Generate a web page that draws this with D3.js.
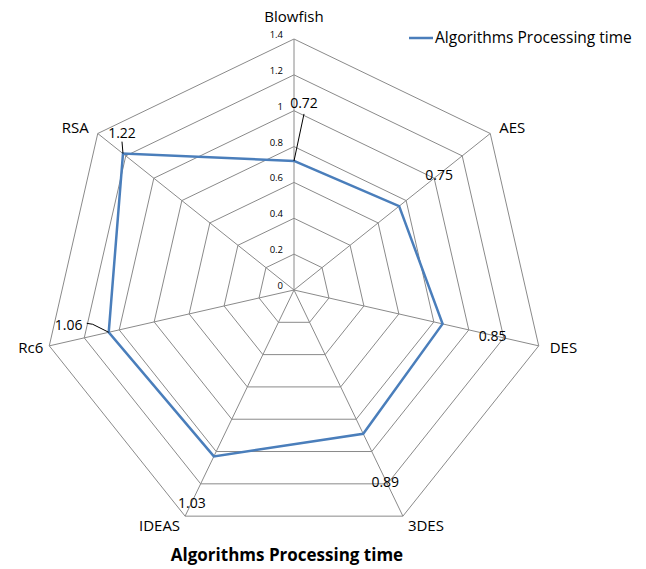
<!DOCTYPE html>
<html>
<head>
<meta charset="utf-8">
<script src="https://cdn.jsdelivr.net/npm/d3@7"></script>
<style>
  html, body { margin: 0; padding: 0; background: #fff; }
  svg { display: block; font-family: "Open Sans", "Liberation Sans", sans-serif; }
</style>
</head>
<body>
<svg id="chart" width="646" height="569"></svg>
<script>
// Chart data
const categories = ["Blowfish", "AES", "DES", "3DES", "IDEAS", "Rc6", "RSA"];
const seriesName = "Algorithms Processing time";
const values = [0.72, 0.75, 0.85, 0.89, 1.03, 1.06, 1.22];
const ticks = [0, 0.2, 0.4, 0.6, 0.8, 1, 1.2, 1.4];
const chartTitle = "Algorithms Processing time";

// Layout
const W = 646, H = 569;
const cx = 294, cy = 290, R = 251;
const gridColor = "#8a8a8a";
const lineColor = "#4a7ebb";

const svg = d3.select("#chart");

const r = d3.scaleLinear().domain([0, 1.4]).range([0, R]);
const angle = d3.scaleLinear().domain([0, categories.length]).range([0, 2 * Math.PI]);

function pt(i, v) {
  const a = angle(i);
  return [cx + r(v) * Math.sin(a), cy - r(v) * Math.cos(a)];
}

const g = svg.append("g");

// Rings
const ringLine = d3.line();
g.selectAll("path.ring")
  .data(ticks.filter(t => t > 0))
  .join("path")
  .attr("class", "ring")
  .attr("d", t => ringLine(categories.map((c, i) => pt(i, t))) + "Z")
  .attr("fill", "none")
  .attr("stroke", gridColor)
  .attr("stroke-width", 1);

// Spokes
g.selectAll("line.spoke")
  .data(categories)
  .join("line")
  .attr("class", "spoke")
  .attr("x1", cx).attr("y1", cy)
  .attr("x2", (d, i) => pt(i, 1.4)[0])
  .attr("y2", (d, i) => pt(i, 1.4)[1])
  .attr("stroke", gridColor)
  .attr("stroke-width", 1);

// Tick labels along the first axis
g.selectAll("text.tick")
  .data(ticks)
  .join("text")
  .attr("class", "tick")
  .attr("x", cx - 11)
  .attr("y", t => cy - r(t) - 1)
  .attr("text-anchor", "end")
  .attr("font-size", 9.5)
  .attr("fill", "#000")
  .text(t => d3.format("")(t));

// Category labels, placed relative to the outer vertex
const catLabelNudge = [
  { dx: 0, dy: -22, anchor: "middle" },
  { dx: 9, dy: -6, anchor: "start" },
  { dx: 11, dy: 2, anchor: "start" },
  { dx: 5, dy: 10, anchor: "start" },
  { dx: -5, dy: 10, anchor: "end" },
  { dx: -6, dy: 2, anchor: "end" },
  { dx: -9, dy: -6, anchor: "end" }
];
g.selectAll("text.cat")
  .data(categories)
  .join("text")
  .attr("class", "cat")
  .attr("x", (d, i) => pt(i, 1.4)[0] + catLabelNudge[i].dx)
  .attr("y", (d, i) => pt(i, 1.4)[1] + catLabelNudge[i].dy)
  .attr("dy", "0.35em")
  .attr("text-anchor", (d, i) => catLabelNudge[i].anchor)
  .attr("font-size", 15)
  .attr("fill", "#000")
  .text(d => d);

// Series line
g.append("path")
  .attr("d", ringLine(values.map((v, i) => pt(i, v))) + "Z")
  .attr("fill", "none")
  .attr("stroke", lineColor)
  .attr("stroke-width", 2.5)
  .attr("stroke-linejoin", "miter");

// Data labels: offset of label centre from its point, plus optional leader line
const dataLabelNudge = [
  { dx: 10, dy: -58, leader: [[10, -47]] },
  { dx: 40, dy: -31 },
  { dx: 50, dy: 12 },
  { dx: 22, dy: 48 },
  { dx: -22, dy: 47 },
  { dx: -40, dy: -7, leader: [[-22, -9], [-16, -8]] },
  { dx: -1, dy: -21, leader: [[-1, -12]] }
];
const labels = g.append("g");
values.forEach((v, i) => {
  const [x, y] = pt(i, v);
  const n = dataLabelNudge[i];
  if (n.leader) {
    const pts = n.leader.map(([a, b]) => [x + a, y + b]);
    pts.push([x, y]);
    labels.append("path")
      .attr("d", d3.line()(pts))
      .attr("fill", "none")
      .attr("stroke", "#000")
      .attr("stroke-width", 1);
  }
  labels.append("text")
    .attr("x", x + n.dx)
    .attr("y", y + n.dy)
    .attr("dy", "0.35em")
    .attr("text-anchor", "middle")
    .attr("font-size", 14)
    .attr("fill", "#000")
    .text(d3.format(".2f")(v));
});

// Legend
const legend = svg.append("g").attr("transform", "translate(409,38)");
legend.append("line")
  .attr("x1", 0).attr("x2", 24).attr("y1", 0).attr("y2", 0)
  .attr("stroke", lineColor).attr("stroke-width", 2.5);
legend.append("text")
  .attr("x", 26).attr("y", 0).attr("dy", "0.35em")
  .attr("font-size", 15.5)
  .attr("fill", "#000")
  .text(seriesName);

// Title
svg.append("text")
  .attr("x", 287).attr("y", 555)
  .attr("dy", "0.35em")
  .attr("text-anchor", "middle")
  .attr("font-size", 17)
  .attr("font-weight", "bold")
  .attr("fill", "#000")
  .text(chartTitle);
</script>
</body>
</html>
